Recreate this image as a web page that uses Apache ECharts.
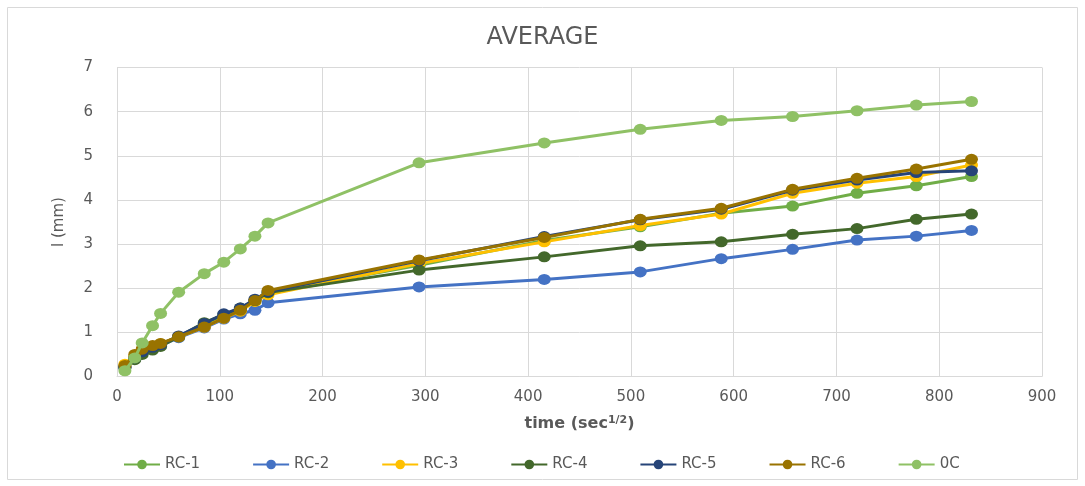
<!DOCTYPE html>
<html><head><meta charset="utf-8">
<script src="https://cdn.jsdelivr.net/npm/echarts@6/dist/echarts.min.js"></script>
<style>html,body{margin:0;padding:0;background:#fff}#c{width:1085px;height:486px}</style>
</head><body><div id="c"></div>
<script>
const time = [7.7, 17.3, 24.5, 34.6, 42.4, 60, 84.9, 103.9, 120, 134.2, 147, 293.9, 415.7, 509.1, 587.9, 657.3, 720, 777.7, 831.4];
const seriesNames = ['RC-1','RC-2','RC-3','RC-4','RC-5','RC-6','0C'];
const rc1 = [0.22,0.42,0.55,0.65,0.72,0.90,1.15,1.35,1.50,1.70,1.90,2.52,3.08,3.39,3.70,3.86,4.15,4.32,4.53];
const rc2 = [0.20,0.40,0.53,0.62,0.70,0.88,1.10,1.30,1.42,1.50,1.67,2.03,2.20,2.37,2.67,2.88,3.09,3.18,3.31];
const rc3 = [0.28,0.45,0.60,0.68,0.74,0.90,1.12,1.32,1.48,1.70,1.85,2.56,3.05,3.42,3.68,4.15,4.38,4.53,4.79];
const rc4 = [0.20,0.38,0.50,0.60,0.68,0.90,1.22,1.40,1.55,1.72,1.90,2.41,2.71,2.96,3.05,3.22,3.35,3.56,3.68];
const rc5 = [0.22,0.42,0.56,0.66,0.72,0.92,1.20,1.42,1.55,1.75,1.92,2.62,3.17,3.55,3.79,4.22,4.45,4.62,4.66];
const rc6 = [0.25,0.50,0.62,0.70,0.75,0.90,1.12,1.32,1.50,1.72,1.95,2.64,3.15,3.56,3.81,4.24,4.49,4.70,4.92];
const oc  = [0.13,0.42,0.76,1.15,1.43,1.91,2.33,2.59,2.89,3.18,3.48,4.84,5.29,5.60,5.80,5.89,6.02,6.15,6.23];
const xTicks = [0,100,200,300,400,500,600,700,800,900];
const yTicks = [0,1,2,3,4,5,6,7];
const colors = ['#70AD47','#4472C4','#FFC000','#43682B','#264478','#997300','#8FC165'];
const allValues = [rc1,rc2,rc3,rc4,rc5,rc6,oc];

const FONT = 'DejaVu Sans';
const chart = echarts.init(document.getElementById('c'));
chart.setOption({
  animation:false,
  color: colors,
  textStyle:{fontFamily:FONT},
  title:{text:'AVERAGE', left:'center', top:21, textStyle:{fontFamily:FONT, fontSize:24, fontWeight:'normal', color:'#595959'}},
  graphic:[{type:'rect', shape:{x:7.5,y:7.5,width:1070,height:472}, style:{fill:'none', stroke:'#d9d9d9', lineWidth:1}, silent:true}],
  grid:{left:117, right:43, top:67.5, bottom:109.5},
  legend:{
    bottom:9, left:118, itemWidth:36, itemHeight:12, itemGap:52,
    data: seriesNames,
    textStyle:{fontFamily:FONT, fontSize:15, color:'#595959'}
  },
  xAxis:{
    type:'value', min:xTicks[0], max:xTicks[xTicks.length-1], interval:100,
    name:'{a|time (sec}{b|1/2}{a|)}', nameLocation:'middle', nameGap:38,
    nameTextStyle:{rich:{a:{fontFamily:FONT,fontSize:16,fontWeight:'bold',color:'#595959'}, b:{fontFamily:FONT,fontSize:11,fontWeight:'bold',color:'#595959',verticalAlign:'top',padding:[0,0,8,0]}}},
    axisLine:{show:true, lineStyle:{color:'#d9d9d9'}},
    axisTick:{show:false},
    axisLabel:{fontFamily:FONT, fontSize:15, color:'#595959', margin:13},
    splitLine:{show:true, lineStyle:{color:'#d9d9d9', width:1}}
  },
  yAxis:{
    type:'value', min:yTicks[0], max:yTicks[yTicks.length-1], interval:1,
    name:'l (mm)', nameLocation:'middle', nameGap:50, nameRotate:90,
    nameTextStyle:{fontFamily:FONT, fontSize:15, color:'#595959'},
    axisLine:{show:true, lineStyle:{color:'#d9d9d9'}},
    axisTick:{show:false},
    axisLabel:{fontFamily:FONT, fontSize:15, color:'#595959', margin:24},
    splitLine:{show:true, lineStyle:{color:'#d9d9d9', width:1}}
  },
  series: seriesNames.map((n,i)=>({
    name:n, type:'line',
    data: time.map((t,j)=>[t, allValues[i][j]]),
    symbol:'circle', symbolSize:[13,11],
    lineStyle:{width:3, color:colors[i]},
    itemStyle:{color:colors[i]},
    z: 2+i
  }))
});
</script></body></html>
